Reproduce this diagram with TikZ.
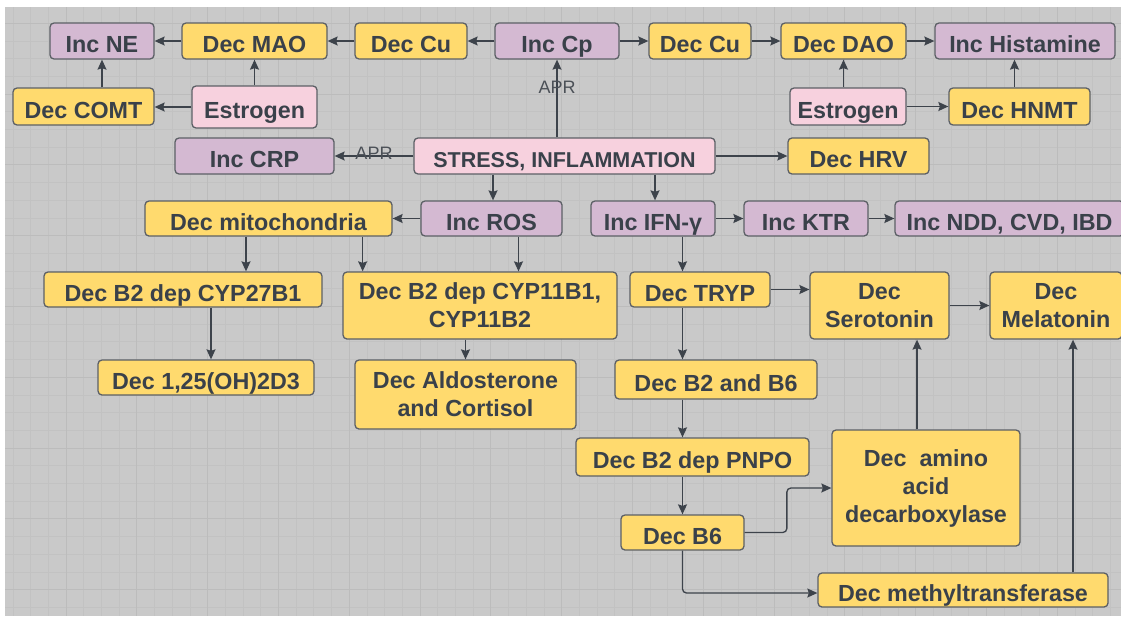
\documentclass[tikz,border=0pt]{standalone}
\usepackage{fontspec}
\setmainfont{Liberation Sans}
\usepackage{xcolor}
\usepackage{tikz}
\usetikzlibrary{arrows.meta, positioning, calc}
\definecolor{bggray}{HTML}{C9C9C9}
\definecolor{gridminor}{HTML}{C2C2C2}
\definecolor{gridmajor}{HTML}{BCBCBC}
\definecolor{boxyellow}{HTML}{FFDA6E}
\definecolor{boxpurple}{HTML}{D4B9D2}
\definecolor{boxpink}{HTML}{F7D1DE}
\definecolor{boxline}{HTML}{5C6066}
\definecolor{txt}{HTML}{3A414A}
\definecolor{arrline}{HTML}{3D434B}
\definecolor{lbltxt}{HTML}{4B5057}
\newcommand{\boxfont}{\bfseries\fontsize{23.3}{28}\selectfont}
\tikzset{
  box/.style={draw=boxline, line width=1.3pt, rounded corners=4pt, text=txt,
    align=center, inner sep=0pt, font=\boxfont, text height=23pt, text depth=0pt},
  multi/.style={text height={}, text depth={}},
  ybox/.style={box, fill=boxyellow},
  pbox/.style={box, fill=boxpurple},
  kbox/.style={box, fill=boxpink},
  arr/.style={-{Stealth[length=10pt,width=9pt,inset=1.5pt]}, line width=1.3pt, draw=arrline},
  lbl/.style={text=lbltxt, font=\fontsize{18}{20}\selectfont, inner sep=0pt},
}

\begin{document}
\begin{tikzpicture}[x=1pt,y=-1pt]

% Canvas
\useasboundingbox (0,0) rectangle (1121,616);
\fill[white] (0,0) rectangle (1121,616);
\fill[bggray] (5,7) rectangle (1121,616);
\begin{scope}
\clip (5,7) rectangle (1121,616);
\foreach \i in {0,...,63} {
  \draw[gridminor, line width=0.8pt] ({12.9+17.7*\i},7) -- ++(0,609);
}
\foreach \i in {0,...,35} {
  \draw[gridminor, line width=0.8pt] (5,{5.5+17.7*\i}) -- ++(1116,0);
}
\foreach \i in {0,...,15} {
  \draw[gridmajor, line width=0.8pt] ({-4.8+70.8*\i},7) -- ++(0,609);
}
\foreach \i in {0,...,8} {
  \draw[gridmajor, line width=0.8pt] (5,{23.2+70.8*\i}) -- ++(1116,0);
}
\end{scope}

% Top rows
\node[pbox, minimum width=104pt, minimum height=36pt] (ne) at (102,41) {Inc NE};
\node[ybox, minimum width=145pt, minimum height=36pt] (mao) at (254.5,41) {Dec MAO};
\node[ybox, minimum width=112pt, minimum height=36pt] (cuL) at (411,41) {Dec Cu};
\node[pbox, minimum width=124pt, minimum height=36pt] (cp) at (557,41) {Inc Cp};
\node[ybox, minimum width=102pt, minimum height=36pt] (cuR) at (700,41) {Dec Cu};
\node[ybox, minimum width=125pt, minimum height=36pt] (dao) at (843.5,41) {Dec DAO};
\node[pbox, minimum width=180pt, minimum height=36pt] (hist) at (1025,41) {Inc Histamine};
\node[ybox, minimum width=141pt, minimum height=37pt] (comt) at (83.5,106.5) {Dec COMT};
\node[kbox, minimum width=125pt, minimum height=42pt] (estL) at (254.5,107) {Estrogen};
\node[kbox, minimum width=116pt, minimum height=37pt] (estR) at (848,106.5) {Estrogen};
\node[ybox, minimum width=141pt, minimum height=37pt] (hnmt) at (1019.5,106.5) {Dec HNMT};

% Stress row
\node[pbox, minimum width=159pt, minimum height=36pt] (crp) at (254.5,156) {Inc CRP};
\node[kbox, minimum width=301pt, minimum height=36pt, font=\bfseries\fontsize{21.5}{26}\selectfont] (stress) at (564.5,156) {STRESS, INFLAMMATION};
\node[ybox, minimum width=141pt, minimum height=36pt] (hrv) at (858.5,156) {Dec HRV};

% Middle rows
\node[ybox, minimum width=247pt, minimum height=35pt] (mito) at (268.5,218.5) {Dec mitochondria};
\node[pbox, minimum width=141pt, minimum height=35pt] (ros) at (491.5,218.5) {Inc ROS};
\node[pbox, minimum width=124pt, minimum height=35pt] (ifn) at (653,218.5) {Inc IFN-γ};
\node[pbox, minimum width=124pt, minimum height=35pt] (ktr) at (806,218.5) {Inc KTR};
\node[pbox, minimum width=229pt, minimum height=35pt] (ndd) at (1009.5,218.5) {Inc NDD, CVD, IBD};
\node[ybox, minimum width=278pt, minimum height=35pt] (cyp27) at (183,289.5) {Dec B2 dep CYP27B1};
\node[ybox, multi, minimum width=274pt, minimum height=67pt] (cyp11) at (480,305.5) {Dec B2 dep CYP11B1,\\CYP11B2};
\node[ybox, minimum width=140pt, minimum height=35pt] (tryp) at (700,289.5) {Dec TRYP};
\node[ybox, multi, minimum width=139pt, minimum height=67pt] (sero) at (879.5,305.5) {Dec\\Serotonin};
\node[ybox, multi, minimum width=132pt, minimum height=67pt] (mela) at (1056,305.5) {Dec\\Melatonin};
\node[ybox, minimum width=216pt, minimum height=35pt] (d3) at (206,377.5) {Dec 1,25(OH)2D3};
\node[ybox, multi, minimum width=221pt, minimum height=69pt] (aldo) at (465.5,394.5) {Dec Aldosterone\\and Cortisol};
\node[ybox, minimum width=202pt, minimum height=39pt] (b2b6) at (716,379.5) {Dec B2 and B6};

% Bottom rows
\node[ybox, minimum width=233pt, minimum height=38pt] (pnpo) at (692.5,457) {Dec B2 dep PNPO};
\node[ybox, multi, minimum width=188pt, minimum height=116pt] (aadc) at (926,488) {Dec~~amino\\acid\\decarboxylase};
\node[ybox, minimum width=123pt, minimum height=35pt] (b6) at (682.5,532.5) {Dec B6};
\node[ybox, minimum width=290pt, minimum height=34pt] (meth) at (963,590) {Dec methyltransferase};

% Arrows, top
\draw[arr] (mao.west) -- (ne.east);
\draw[arr] (cuL.west) -- (mao.east);
\draw[arr] (cp.west) -- (cuL.east);
\draw[arr] (cp.east) -- (cuR.west);
\draw[arr] (cuR.east) -- (dao.west);
\draw[arr] (dao.east) -- (hist.west);
\draw[arr] (comt.north -| ne) -- (ne.south);
\draw[arr] (estL.west) -- (estL.west -| comt.east);
\draw[arr] (estL.north) -- (mao.south);
\draw[arr] (dao.south |- estR.north) -- (dao.south);
\draw[arr] (estR.east) -- (estR.east -| hnmt.west);
\draw[arr] ([xshift=-5pt]hnmt.north) -- ([xshift=-5pt]hnmt.north |- hist.south);

% Arrows, stress
\draw[arr] (stress.north -| cp) -- node[lbl, pos=0.65] (aprA) {APR} (cp.south);
\draw[arr] (stress.west) -- node[lbl, yshift=3pt] (aprB) {APR} (crp.east);
\draw[arr] (stress.east) -- (hrv.west);
\draw[arr] ([xshift=1.5pt]ros.north |- stress.south) -- ([xshift=1.5pt]ros.north);
\draw[arr] ([xshift=2pt]ifn.north |- stress.south) -- ([xshift=2pt]ifn.north);

% Arrows, middle
\draw[arr] (ros.west) -- (mito.east);
\draw[arr] ([xshift=27pt]ros.south) -- ([xshift=27pt]ros.south |- cyp11.north);
\draw[arr] ([xshift=-22.5pt]mito.south) -- ([xshift=-22.5pt]mito.south |- cyp27.north);
\draw[arr] ([xshift=-30pt]mito.south east) -- ([xshift=-30pt]mito.south east |- cyp11.north);
\draw[arr] ([xshift=5pt]d3.north |- cyp27.south) -- ([xshift=5pt]d3.north);
\draw[arr] (aldo.north |- cyp11.south) -- (aldo.north);
\draw[arr] (ifn.east) -- (ktr.west);
\draw[arr] (ktr.east) -- (ndd.west);
\draw[arr] (b6.north |- ifn.south) -- (b6.north |- tryp.north);
\draw[arr] (b6.north |- tryp.south) -- (b6.north |- b2b6.north);
\draw[arr] (tryp.east) -- (tryp.east -| sero.west);
\draw[arr] (sero.east) -- (mela.west);

% Arrows, bottom
\draw[arr] (b6.north |- b2b6.south) -- (b6.north |- pnpo.north);
\draw[arr] (b6.north |- pnpo.south) -- (b6.north);
\draw[arr, rounded corners=4pt] (b6.east) -| ([xshift=-44.5pt]aadc.west) -- (aadc.west);
\draw[arr, rounded corners=4pt] (b6.south) |- ([yshift=-3pt]meth.west);
\draw[arr] ([xshift=-9pt]aadc.north) -- ([xshift=-9pt]aadc.north |- sero.south);
\draw[arr] ([xshift=17pt]mela.south |- meth.north) -- ([xshift=17pt]mela.south);

\end{tikzpicture}
\end{document}
